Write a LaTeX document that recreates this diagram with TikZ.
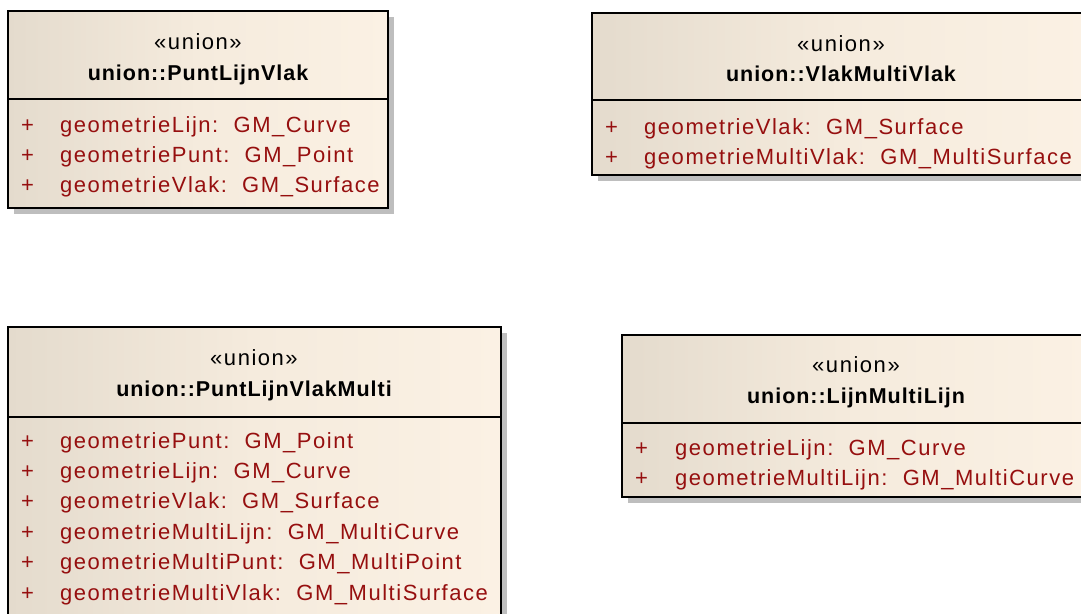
\documentclass[tikz,border=0pt]{standalone}
\usepackage{fontspec}
\setmainfont{Liberation Sans}
\newfontfamily\umlfont[LetterSpace=7]{Liberation Sans}
\newfontfamily\umltitlefont[LetterSpace=4.5]{Liberation Sans}
\definecolor{attrred}{RGB}{150,15,15}
\definecolor{fillL}{RGB}{228,219,205}
\definecolor{fillM}{RGB}{245,235,221}
\definecolor{fillR}{RGB}{251,241,228}
\definecolor{shadowgray}{RGB}{190,190,190}
% #1 left, #2 top, #3 right, #4 bottom, #5 divider y
\newcommand\umlboxdraw[5]{%
  \fill[shadowgray] (#1+6,#2+6) rectangle (#3+6,#4+6);
  \shade[left color=fillL, right color=fillR, middle color=fillM] (#1,#2) rectangle (#3,#4);
  \draw[boxline] (#1,#2) rectangle (#3,#4);
  \draw[boxline] (#1,#5) -- (#3,#5);
}
\begin{document}
\begin{tikzpicture}[x=1pt,y=-1pt,
  boxline/.style={draw=black, line width=2pt},
  stereo/.style={font=\umlfont\fontsize{22}{26}\selectfont, anchor=base, inner sep=0pt},
  ctitle/.style={font=\umltitlefont\bfseries\fontsize{21.5}{25}\selectfont, anchor=base, inner sep=0pt},
  attrtxt/.style={font=\umlfont\fontsize{22}{26}\selectfont, text=attrred, anchor=base west, inner sep=0pt},
  vis/.style={font=\umlfont\fontsize{22}{26}\selectfont, text=attrred, anchor=base west, inner sep=0pt}]
\useasboundingbox (0,0) rectangle (1081,613);
\clip (0,0) rectangle (1081,613);

% Box 1: PuntLijnVlak
\umlboxdraw{8}{11}{388}{208}{99}
\node[stereo] (b1s) at (198,49) {«union»};
\node[ctitle] (b1t) at (198,80) {union::PuntLijnVlak};
\node[vis] (b1p1) at (21,132) {+};
\node[attrtxt] (b1a1) at (60,132) {geometrieLijn:\ \ GM\_Curve};
\node[vis] (b1p2) at (21,162) {+};
\node[attrtxt] (b1a2) at (60,162) {geometriePunt:\ \ GM\_Point};
\node[vis] (b1p3) at (21,192) {+};
\node[attrtxt] (b1a3) at (60,192) {geometrieVlak:\ \ GM\_Surface};

% Box 2: VlakMultiVlak
\umlboxdraw{592}{13}{1090}{175}{100}
\node[stereo] (b2s) at (841,51) {«union»};
\node[ctitle] (b2t) at (841,81) {union::VlakMultiVlak};
\node[vis] (b2p1) at (605,134) {+};
\node[attrtxt] (b2a1) at (644,134) {geometrieVlak:\ \ GM\_Surface};
\node[vis] (b2p2) at (605,164) {+};
\node[attrtxt] (b2a2) at (644,164) {geometrieMultiVlak:\ \ GM\_MultiSurface};

% Box 3: PuntLijnVlakMulti
\umlboxdraw{8}{327}{501}{616}{417}
\node[stereo] (b3s) at (254,365) {«union»};
\node[ctitle] (b3t) at (254,396) {union::PuntLijnVlakMulti};
\node[vis] (b3p1) at (21,448) {+};
\node[attrtxt] (b3a1) at (60,448) {geometriePunt:\ \ GM\_Point};
\node[vis] (b3p2) at (21,478) {+};
\node[attrtxt] (b3a2) at (60,478) {geometrieLijn:\ \ GM\_Curve};
\node[vis] (b3p3) at (21,508) {+};
\node[attrtxt] (b3a3) at (60,508) {geometrieVlak:\ \ GM\_Surface};
\node[vis] (b3p4) at (21,539) {+};
\node[attrtxt] (b3a4) at (60,539) {geometrieMultiLijn:\ \ GM\_MultiCurve};
\node[vis] (b3p5) at (21,569) {+};
\node[attrtxt] (b3a5) at (60,569) {geometrieMultiPunt:\ \ GM\_MultiPoint};
\node[vis] (b3p6) at (21,600) {+};
\node[attrtxt] (b3a6) at (60,600) {geometrieMultiVlak:\ \ GM\_MultiSurface};

% Box 4: LijnMultiLijn
\umlboxdraw{622}{335}{1091}{497}{423}
\node[stereo] (b4s) at (856,372) {«union»};
\node[ctitle] (b4t) at (856,403) {union::LijnMultiLijn};
\node[vis] (b4p1) at (635,455) {+};
\node[attrtxt] (b4a1) at (675,455) {geometrieLijn:\ \ GM\_Curve};
\node[vis] (b4p2) at (635,485) {+};
\node[attrtxt] (b4a2) at (675,485) {geometrieMultiLijn:\ \ GM\_MultiCurve};
\end{tikzpicture}
\end{document}
